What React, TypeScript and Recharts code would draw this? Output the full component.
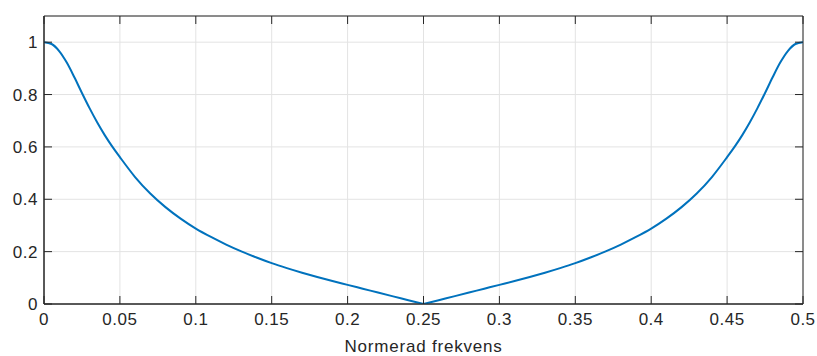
import React from 'react';
import { LineChart, Line, XAxis, YAxis, CartesianGrid, ReferenceArea } from 'recharts';

const freqs: number[] = [
  0, 0.005, 0.01, 0.015, 0.02, 0.025, 0.03, 0.035, 0.04, 0.045, 0.05,
  0.06, 0.07, 0.08, 0.09, 0.1, 0.11, 0.12, 0.13, 0.14, 0.15, 0.16, 0.17, 0.18, 0.19, 0.2,
  0.21, 0.22, 0.23, 0.24, 0.25, 0.26, 0.27, 0.28, 0.29, 0.3,
  0.31, 0.32, 0.33, 0.34, 0.35, 0.36, 0.37, 0.38, 0.39, 0.4,
  0.41, 0.42, 0.43, 0.44, 0.45, 0.455, 0.46, 0.465, 0.47, 0.475, 0.48, 0.485, 0.49, 0.495, 0.5,
];

const magnitude: number[] = [
  1.0, 0.993, 0.966, 0.922, 0.866, 0.806, 0.748, 0.694, 0.645, 0.601, 0.561,
  0.485, 0.422, 0.37, 0.326, 0.288, 0.256, 0.227, 0.201, 0.1775, 0.156, 0.137, 0.1195, 0.103, 0.0875, 0.073,
  0.0584, 0.0438, 0.0292, 0.0146, 0.0, 0.0146, 0.0292, 0.0438, 0.0584, 0.073,
  0.0875, 0.103, 0.1195, 0.137, 0.156, 0.1775, 0.201, 0.227, 0.256, 0.288,
  0.326, 0.37, 0.422, 0.485, 0.561, 0.601, 0.645, 0.694, 0.748, 0.806, 0.866, 0.922, 0.966, 0.993, 1.0,
];

const xTicks: number[] = [0, 0.05, 0.1, 0.15, 0.2, 0.25, 0.3, 0.35, 0.4, 0.45, 0.5];
const yTicks: number[] = [0, 0.2, 0.4, 0.6, 0.8, 1];
const xLabel = 'Normerad frekvens';
const MID = 0.25;

const data = freqs.map((f, i) => ({
  f,
  left: f <= MID ? magnitude[i] : null,
  right: f >= MID ? magnitude[i] : null,
}));

const FONT = 'Helvetica, "Liberation Sans", Arial, sans-serif';
const AXIS = '#262626';
const FS = 17;
const W = 817;
const H = 356;
const M_TOP = 16;
const M_RIGHT = 14;
const Y_W = 44;
const X_H = 52;
const PLOT_TOP = M_TOP;
const PLOT_BOTTOM = H - X_H;
const PLOT_LEFT = Y_W;
const PLOT_RIGHT = W - M_RIGHT;
const TICK_LEN = 8;
const X_GAP = 9;
const Y_GAP = 6;

const XTick = (props: any) => {
  const { x, payload } = props;
  return (
    <g>
      <line x1={x} x2={x} y1={PLOT_BOTTOM} y2={PLOT_BOTTOM - TICK_LEN} stroke={AXIS} strokeWidth={1} />
      <line x1={x} x2={x} y1={PLOT_TOP} y2={PLOT_TOP + TICK_LEN} stroke={AXIS} strokeWidth={1} />
      <text
        x={x}
        y={PLOT_BOTTOM + X_GAP}
        dy="0.72em"
        textAnchor="middle"
        fontSize={FS}
        fontFamily={FONT}
        fill={AXIS}
        letterSpacing={0.5}
      >
        {String(payload.value)}
      </text>
    </g>
  );
};

const YTick = (props: any) => {
  const { y, payload } = props;
  return (
    <g>
      <line x1={PLOT_LEFT} x2={PLOT_LEFT + TICK_LEN} y1={y} y2={y} stroke={AXIS} strokeWidth={1} />
      <line x1={PLOT_RIGHT} x2={PLOT_RIGHT - TICK_LEN} y1={y} y2={y} stroke={AXIS} strokeWidth={1} />
      <text
        x={PLOT_LEFT - Y_GAP}
        y={y}
        dy="0.36em"
        textAnchor="end"
        fontSize={FS}
        fontFamily={FONT}
        fill={AXIS}
        letterSpacing={0.5}
      >
        {String(payload.value)}
      </text>
    </g>
  );
};

export default function App() {
  return (
    <div style={{ position: 'absolute', left: 0, top: 0, width: W, height: H, background: '#fff' }}>
      <LineChart
        width={W}
        height={H}
        data={data}
        margin={{ top: M_TOP, right: M_RIGHT, left: 0, bottom: 0 }}
      >
        <CartesianGrid stroke="#e3e3e3" strokeWidth={1} />
        <XAxis
          dataKey="f"
          type="number"
          domain={[0, 0.5]}
          ticks={xTicks}
          height={X_H}
          tickSize={0}
          tickLine={false}
          tick={<XTick />}
          axisLine={{ stroke: AXIS }}
          allowDataOverflow
          interval={0}
          label={{
            value: xLabel,
            position: 'insideBottom',
            offset: 4,
            style: { fontSize: FS, fill: AXIS, fontFamily: FONT, letterSpacing: 0.8 },
          }}
        />
        <YAxis
          type="number"
          domain={[0, 1.1]}
          ticks={yTicks}
          width={Y_W}
          tickSize={0}
          tickLine={false}
          tick={<YTick />}
          axisLine={{ stroke: AXIS }}
          allowDataOverflow
          interval={0}
        />
        <ReferenceArea
          x1={0}
          x2={0.5}
          y1={0}
          y2={1.1}
          fill="none"
          fillOpacity={0}
          stroke={AXIS}
          strokeWidth={1}
          ifOverflow="visible"
        />
        <Line
          type="monotone"
          dataKey="left"
          stroke="#0072BD"
          strokeWidth={2}
          dot={false}
          connectNulls={false}
          isAnimationActive={false}
        />
        <Line
          type="monotone"
          dataKey="right"
          stroke="#0072BD"
          strokeWidth={2}
          dot={false}
          connectNulls={false}
          isAnimationActive={false}
        />
      </LineChart>
    </div>
  );
}
